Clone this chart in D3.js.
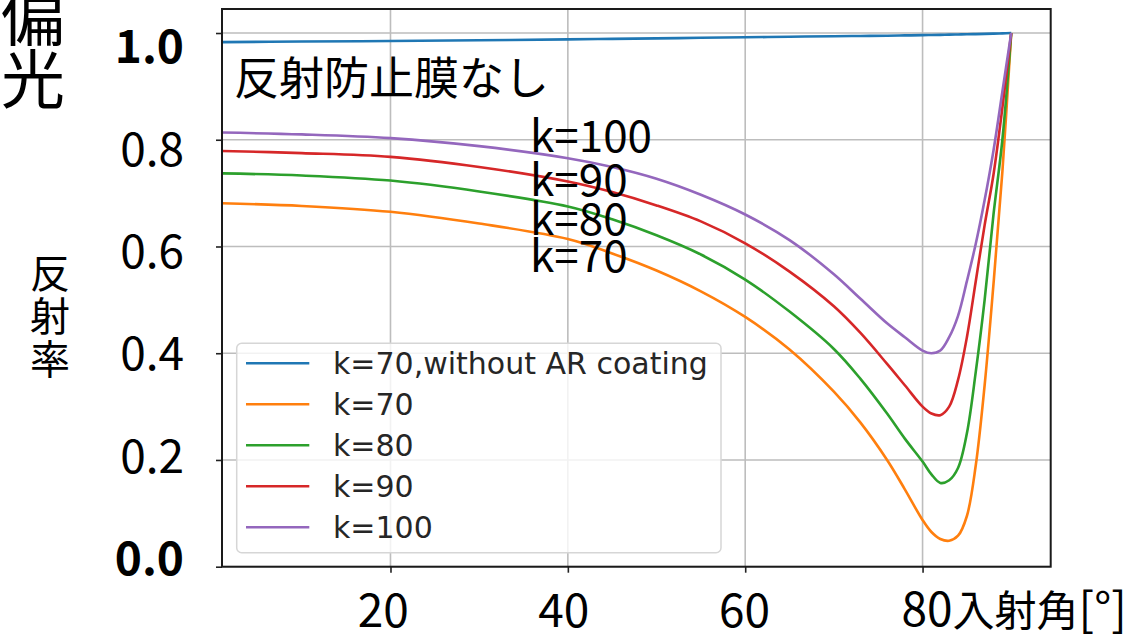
<!DOCTYPE html>
<html>
<head>
<meta charset="utf-8">
<script src="https://cdn.jsdelivr.net/npm/d3@7"></script>
<style>
  html, body { margin: 0; padding: 0; background: #fff; }
  svg { display: block; }
  .jp { font-family: "Noto Sans CJK JP", sans-serif; fill: #000; }
  .leg { font-family: "DejaVu Sans", sans-serif; fill: #262626; }
</style>
</head>
<body>
<svg width="1125" height="637"></svg>
<script>
// incidence angle [deg]
const angles = [1, 10, 20, 30, 40, 45, 50, 55, 60, 65, 70, 73, 76, 78, 80, 81, 82, 83, 84, 85, 86, 87, 88, 89, 90];
// reflectance per series
const k70NoAR = [0.983, 0.984, 0.985, 0.9865, 0.988, 0.989, 0.990, 0.991, 0.992, 0.993, 0.994, 0.9945, 0.995, 0.9955, 0.996, 0.9963, 0.9966, 0.997, 0.9973, 0.9976, 0.998, 0.9984, 0.9988, 0.9994, 1.0];
const k70  = [0.681, 0.676, 0.665, 0.643, 0.614, 0.587, 0.555, 0.516, 0.468, 0.407, 0.328, 0.27, 0.2, 0.145, 0.0875, 0.065, 0.052, 0.0487, 0.058, 0.095, 0.19, 0.34, 0.53, 0.74, 1.0];
const k80  = [0.737, 0.733, 0.7235, 0.703, 0.675, 0.651, 0.621, 0.585, 0.538, 0.478, 0.408, 0.352, 0.287, 0.24, 0.197, 0.173, 0.157, 0.162, 0.185, 0.25, 0.365, 0.50, 0.66, 0.80, 1.0];
const k90  = [0.779, 0.775, 0.768, 0.749, 0.7217, 0.702, 0.677, 0.647, 0.606, 0.553, 0.488, 0.438, 0.38, 0.34, 0.30, 0.287, 0.284, 0.30, 0.35, 0.43, 0.535, 0.64, 0.735, 0.86, 1.0];
const k100 = [0.8135, 0.810, 0.803, 0.788, 0.7655, 0.749, 0.727, 0.697, 0.66, 0.612, 0.548, 0.502, 0.456, 0.43, 0.405, 0.400, 0.405, 0.43, 0.47, 0.535, 0.605, 0.687, 0.78, 0.89, 1.0];

const seriesNames = ['k=70,without AR coating', 'k=70', 'k=80', 'k=90', 'k=100'];
const seriesValues = [k70NoAR, k70, k80, k90, k100];
const colors = ['#1f77b4', '#ff7f0e', '#2ca02c', '#d62728', '#9467bd'];

const xTicks = [20, 40, 60, 80];
const yTicks = [0, 0.2, 0.4, 0.6, 0.8, 1.0];
const yTickText = ['0.0', '0.2', '0.4', '0.6', '0.8', '1.0'];
const boldY = ['0.0', '1.0'];
const curveNotes = ['k=100', 'k=90', 'k=80', 'k=70'];

const svg = d3.select('svg');
const L = 222, R = 1050.7, T = 9, B = 566.7;

const x = d3.scaleLinear().domain([1, 94.45]).range([L, R]);
const y = d3.scaleLinear().domain([0, 1.045]).range([B, T]);
// overlaid tick text sits on a slightly different spacing than the ticks
const yLab = d3.scaleLinear().domain([0, 1]).range([575, 63.3]);
const xLab = d3.scaleLinear().domain([20, 80]).range([383.3, 925]);

// grid
const grid = svg.append('g').attr('stroke', '#bdbdbd').attr('stroke-width', 1.6);
grid.selectAll('.gx').data(xTicks).enter().append('line')
  .attr('x1', d => x(d)).attr('x2', d => x(d)).attr('y1', T).attr('y2', B);
grid.selectAll('.gy').data(yTicks).enter().append('line')
  .attr('x1', L).attr('x2', R).attr('y1', d => y(d)).attr('y2', d => y(d));

// tick marks
svg.append('g').attr('transform', `translate(0,${B})`)
  .call(d3.axisBottom(x).tickValues(xTicks).tickSize(6).tickFormat(''))
  .call(g => g.select('.domain').remove())
  .selectAll('line').attr('stroke', '#222').attr('stroke-width', 1.6);
svg.append('g').attr('transform', `translate(${L},0)`)
  .call(d3.axisLeft(y).tickValues(yTicks).tickSize(6).tickFormat(''))
  .call(g => g.select('.domain').remove())
  .selectAll('line').attr('stroke', '#222').attr('stroke-width', 1.6);

// curves
const line = d3.line()
  .x((d, i) => x(angles[i]))
  .y(d => y(d))
  .curve(d3.curveCatmullRom.alpha(0.5));

svg.append('g').selectAll('path')
  .data(seriesValues).enter().append('path')
  .attr('d', d => line(d))
  .attr('fill', 'none')
  .attr('stroke', (d, i) => colors[i])
  .attr('stroke-width', 2.6);

// frame
svg.append('rect')
  .attr('x', L).attr('y', T).attr('width', R - L).attr('height', B - T)
  .attr('fill', 'none').attr('stroke', '#1a1a1a').attr('stroke-width', 2);

// legend
const leg = svg.append('g');
leg.append('rect')
  .attr('x', 236.7).attr('y', 343.3).attr('width', 484.3).attr('height', 209.4)
  .attr('rx', 5).attr('fill', '#fff').attr('fill-opacity', 0.8)
  .attr('stroke', '#d6d6d6').attr('stroke-width', 1.5);
const rows = leg.selectAll('.row').data(seriesNames).enter().append('g')
  .attr('transform', (d, i) => `translate(0,${363.3 + i * 41})`);
rows.append('line')
  .attr('x1', 246).attr('x2', 309.3)
  .attr('stroke', (d, i) => colors[i]).attr('stroke-width', 2.6);
rows.append('text').attr('class', 'leg')
  .attr('x', 333).attr('y', 10.4)
  .attr('font-size', 30)
  .text(d => d);

// y tick text
svg.append('g').selectAll('text')
  .data(yTicks).enter().append('text').attr('class', 'jp')
  .attr('x', 184).attr('y', d => yLab(d))
  .attr('text-anchor', 'end')
  .attr('font-size', 46)
  .attr('font-weight', (d, i) => boldY.includes(yTickText[i]) ? 700 : 400)
  .text((d, i) => yTickText[i]);

// x tick text
svg.append('g').selectAll('text')
  .data(xTicks.slice(0, 3)).enter().append('text').attr('class', 'jp')
  .attr('x', d => xLab(d)).attr('y', 627)
  .attr('text-anchor', 'middle')
  .attr('font-size', 46)
  .text(d => d);
const xt = svg.append('text').attr('class', 'jp')
  .attr('x', xLab(80) - 23.5).attr('y', 626)
  .attr('font-size', 46);
xt.append('tspan').text('80');
xt.append('tspan').attr('font-size', 42).text('入射角');
xt.append('tspan').text('[°]');

// annotations
svg.append('text').attr('class', 'jp')
  .attr('x', 234).attr('y', 95).attr('font-size', 45)
  .text('反射防止膜なし');
svg.append('g').selectAll('text')
  .data(curveNotes).enter().append('text').attr('class', 'jp')
  .attr('x', 530).attr('y', (d, i) => [152, 196, 235, 272][i])
  .attr('font-size', 44)
  .text(d => d);

// left labels
svg.append('g').selectAll('text')
  .data(['偏', '光']).enter().append('text').attr('class', 'jp')
  .attr('x', 33).attr('y', (d, i) => 12 + i * 63)
  .attr('text-anchor', 'middle').attr('dominant-baseline', 'central')
  .attr('font-size', 64)
  .text(d => d);
svg.append('g').selectAll('text')
  .data(['反', '射', '率']).enter().append('text').attr('class', 'jp')
  .attr('x', 50).attr('y', (d, i) => 271 + i * 43)
  .attr('text-anchor', 'middle').attr('dominant-baseline', 'central')
  .attr('font-size', 40)
  .text(d => d);
</script>
</body>
</html>
